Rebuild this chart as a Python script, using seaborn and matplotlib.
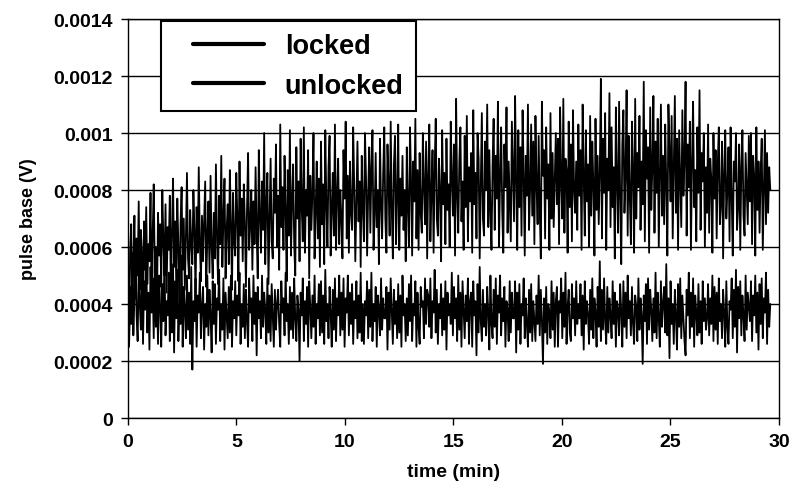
import numpy as np
import pandas as pd
import matplotlib
matplotlib.use("Agg")
import matplotlib.pyplot as plt
import seaborn as sns

# pulse base readings, in units of 1e-4 V, about 20 samples per minute
unlocked_e4 = [
    4.8, 2.6, 5.9, 6.8, 3.9, 5.4, 7.1, 4.2, 6.3, 5.0, 7.6, 4.5, 6.6, 5.8, 3.8, 6.9, 5.2, 7.4, 4.7, 6.1,
    5.5, 7.9, 4.3, 6.4, 8.2, 5.1, 6.0, 3.9, 7.2, 5.7, 6.8, 4.6, 8.0, 6.2, 5.0, 7.5, 4.4, 6.7, 5.9, 7.8,
    4.1, 6.5, 8.4, 5.3, 6.9, 4.7, 7.7, 6.0, 3.6, 6.8, 8.1, 5.2, 7.0, 4.5, 6.3, 8.6, 5.6, 4.9, 7.3, 6.1,
    5.4, 8.0, 6.6, 4.3, 7.4, 5.8, 8.8, 6.2, 4.8, 7.1, 5.5, 6.9, 8.3, 4.6, 6.4, 7.6, 5.1, 8.5, 6.0, 4.9,
    7.2, 5.6, 8.9, 6.3, 4.7, 7.8, 6.1, 9.2, 5.3, 7.0, 8.4, 4.9, 6.6, 7.5, 5.4, 8.7, 6.8, 4.5, 7.9, 6.2,
    5.7, 8.6, 7.0, 4.8, 9.0, 6.4, 7.7, 5.5, 8.2, 6.9, 4.6, 7.3, 9.3, 5.9, 6.8, 8.0, 5.2, 7.6, 6.1, 8.8,
    6.5, 4.9, 9.4, 7.1, 5.8, 8.3, 6.6, 10.0, 5.4, 7.5, 8.6, 4.7, 7.0, 9.1, 6.2, 5.6, 8.4, 7.2, 9.6, 6.0,
    7.8, 5.2, 10.3, 6.7, 8.1, 5.9, 9.2, 7.3, 4.8, 8.7, 6.4, 10.1, 5.7, 7.6, 8.9, 6.1, 5.0, 9.5, 7.0, 8.3,
    5.5, 9.8, 7.4, 6.2, 10.2, 5.8, 8.0, 7.1, 9.4, 4.9, 8.5, 6.6, 7.9, 10.0, 5.6, 7.2, 9.0, 6.3, 8.4, 5.3,
    9.7, 6.8, 8.2, 5.4, 10.1, 7.5, 6.0, 8.8, 9.9, 5.7, 7.3, 8.6, 6.4, 10.3, 5.9, 7.8, 9.1, 6.1, 8.0, 7.0,
    5.6, 9.4, 7.7, 10.4, 6.3, 8.5, 5.8, 9.0, 7.2, 6.6, 10.2, 8.1, 5.5, 7.6, 9.7, 6.9, 8.3, 5.3, 9.2, 7.4,
    6.2, 10.0, 8.4, 5.7, 7.9, 9.5, 6.5, 8.8, 10.1, 5.9, 7.1, 9.3, 6.7, 8.0, 5.4, 9.8, 7.5, 6.3, 8.6, 10.2,
    7.0, 5.8, 9.6, 8.2, 6.4, 10.4, 7.3, 5.6, 8.9, 9.9, 6.1, 7.7, 10.3, 5.9, 8.4, 7.1, 9.2, 6.6, 8.0, 5.5,
    9.5, 7.4, 6.0, 10.2, 8.3, 5.7, 9.0, 7.6, 10.5, 6.3, 8.7, 5.9, 9.3, 7.2, 6.5, 10.0, 8.1, 6.8, 9.7, 5.6,
    8.5, 10.3, 6.2, 7.9, 9.4, 5.8, 8.8, 10.5, 7.0, 6.4, 9.1, 8.0, 5.5, 10.1, 7.5, 8.6, 6.1, 9.8, 7.3, 8.2,
    6.0, 10.4, 8.4, 7.1, 9.6, 5.7, 11.2, 7.8, 6.5, 9.0, 10.2, 6.9, 8.3, 5.9, 9.9, 7.4, 10.6, 6.2, 8.8, 7.6,
    9.3, 5.8, 10.8, 7.5, 8.6, 6.3, 10.0, 9.1, 5.6, 8.2, 10.7, 7.0, 6.4, 9.7, 8.0, 11.0, 6.7, 9.4, 7.2, 5.9,
    8.9, 10.5, 6.6, 9.2, 7.7, 11.1, 6.0, 8.4, 10.2, 7.3, 5.8, 9.6, 8.1, 10.9, 6.5, 9.0, 7.6, 6.2, 10.4, 8.7,
    6.9, 11.3, 8.3, 5.9, 10.1, 7.4, 9.5, 6.4, 10.8, 8.6, 5.7, 9.2, 7.8, 11.0, 6.6, 8.0, 10.3, 7.1, 9.7, 6.1,
    10.6, 8.2, 6.8, 9.9, 7.3, 5.6, 11.1, 8.5, 9.4, 6.3, 10.2, 7.7, 8.9, 5.9, 10.7, 7.0, 9.3, 6.7, 8.4, 10.0,
    7.5, 9.8, 6.1, 10.9, 8.3, 7.0, 11.2, 6.5, 9.1, 8.7, 5.8, 10.4, 7.4, 9.6, 6.2, 10.8, 8.0, 7.2, 9.0, 6.6,
    10.3, 7.8, 9.4, 5.9, 11.0, 8.5, 6.4, 10.1, 7.6, 8.9, 6.0, 10.6, 7.1, 9.7, 8.2, 5.7, 10.5, 7.3, 9.2, 6.8,
    8.6, 11.9, 6.3, 9.8, 7.9, 10.7, 5.9, 9.1, 8.0, 11.4, 6.7, 10.2, 7.4, 8.8, 5.6, 10.9, 8.3, 6.5, 11.1, 7.7,
    5.4, 9.6, 10.8, 7.2, 8.5, 11.5, 6.4, 9.9, 7.8, 6.1, 10.4, 8.7, 5.8, 11.2, 7.0, 9.3, 8.1, 10.6, 6.6, 9.0,
    7.5, 11.8, 6.2, 10.1, 8.4, 9.5, 5.8, 10.9, 7.3, 8.8, 11.3, 6.5, 9.7, 7.9, 10.5, 6.0, 8.6, 11.0, 7.1, 9.2,
    6.8, 10.3, 8.2, 5.7, 11.0, 9.4, 7.6, 10.6, 6.3, 8.9, 11.3, 7.2, 9.8, 5.9, 10.1, 8.4, 6.7, 10.8, 7.8, 9.1,
    11.8, 6.4, 9.6, 8.1, 10.4, 5.9, 9.0, 11.1, 7.4, 8.7, 6.2, 10.2, 7.9, 11.5, 6.6, 9.3, 8.3, 10.0, 6.0, 8.8,
    7.2, 10.3, 6.5, 9.1, 8.4, 5.8, 10.0, 7.7, 9.4, 6.3, 8.9, 10.2, 6.8, 7.5, 9.7, 5.6, 8.6, 10.1, 7.0, 8.0,
    9.5, 6.2, 10.2, 7.8, 5.7, 9.0, 8.3, 10.0, 6.6, 7.4, 9.6, 5.9, 8.8, 10.1, 7.1, 6.4, 9.3, 8.0, 6.8, 9.9,
    7.6, 10.0, 6.1, 9.2, 8.5, 5.7, 10.2, 7.3, 9.0, 6.5, 8.6, 9.8, 5.9, 8.1, 10.1, 6.8, 9.3, 7.2, 8.8, 8.0,
]

locked_e4 = [
    5.0, 2.5, 4.6, 3.3, 5.8, 2.9, 4.2, 6.1, 3.6, 2.7, 5.2, 4.0, 3.1, 5.5, 2.6, 4.8, 3.8, 6.0, 3.0, 4.4,
    2.4, 5.3, 3.7, 4.9, 2.8, 5.7, 3.2, 4.5, 2.6, 5.0, 3.9, 2.5, 4.7, 3.4, 5.6, 2.9, 4.1, 3.6, 5.1, 2.7,
    4.3, 3.0, 5.4, 2.3, 4.8, 3.5, 5.2, 2.7, 4.0, 3.3, 5.7, 2.5, 4.6, 3.8, 2.8, 5.0, 3.1, 4.4, 2.6, 5.3,
    1.7, 4.1, 3.4, 4.9, 2.5, 4.3, 3.7, 5.1, 2.8, 3.9, 4.6, 2.4, 4.0, 3.2, 5.0, 2.9, 4.5, 3.6, 2.3, 4.8,
    3.3, 4.7, 2.6, 4.2, 3.8, 5.2, 2.7, 4.0, 3.1, 4.9, 2.4, 4.4, 3.6, 2.8, 4.6, 3.0, 5.0, 2.5, 4.1, 3.5,
    4.8, 2.9, 4.3, 3.6, 5.1, 2.6, 4.0, 3.2, 4.7, 2.8, 4.5, 3.4, 2.5, 4.9, 3.7, 4.2, 2.7, 5.0, 3.3, 4.4,
    2.2, 4.6, 3.5, 4.1, 2.8, 5.0, 3.2, 4.4, 3.8, 2.6, 4.9, 3.0, 4.3, 2.7, 4.7, 3.6, 2.5, 4.5, 3.1, 4.0,
    4.5, 3.3, 2.5, 4.8, 3.7, 4.2, 2.9, 5.1, 3.4, 4.0, 2.6, 4.6, 3.1, 4.4, 2.8, 4.9, 3.5, 2.7, 4.3, 3.8,
    2.0, 4.4, 3.6, 4.9, 2.7, 4.1, 3.3, 4.6, 2.5, 4.8, 3.9, 2.8, 4.3, 3.2, 5.0, 2.6, 4.0, 3.5, 4.7, 2.9,
    4.8, 3.0, 4.3, 2.6, 5.2, 3.4, 4.0, 2.8, 4.6, 3.7, 2.5, 4.5, 3.1, 4.9, 2.7, 4.2, 3.6, 5.0, 2.9, 4.4,
    3.1, 4.9, 2.5, 4.2, 3.7, 5.0, 2.9, 4.4, 3.3, 4.7, 2.6, 4.1, 3.5, 4.8, 2.8, 4.3, 3.0, 5.1, 2.7, 4.0,
    2.6, 4.1, 3.6, 4.8, 2.8, 4.5, 3.2, 5.1, 2.7, 4.0, 3.4, 4.6, 2.5, 4.3, 3.8, 2.9, 4.9, 3.1, 4.2, 3.5,
    3.5, 4.6, 2.4, 4.4, 3.1, 4.9, 3.8, 2.6, 4.5, 3.3, 4.1, 2.8, 4.7, 3.0, 4.3, 2.5, 5.0, 3.6, 4.0, 2.7,
    4.2, 2.9, 4.7, 3.4, 5.0, 2.7, 4.0, 3.6, 4.8, 2.5, 4.4, 3.2, 2.6, 4.6, 3.9, 4.1, 2.8, 4.9, 3.3, 4.5,
    4.3, 3.2, 4.9, 2.8, 4.1, 3.7, 5.2, 3.0, 4.5, 2.6, 4.0, 3.5, 4.7, 2.9, 4.2, 3.1, 4.8, 2.4, 4.4, 3.6,
    4.0, 3.3, 5.1, 2.9, 4.6, 3.5, 4.2, 2.7, 5.0, 3.1, 4.4, 2.5, 4.8, 3.8, 2.8, 4.3, 3.4, 4.9, 2.6, 4.1,
    4.4, 2.5, 4.8, 3.6, 4.1, 2.2, 4.7, 3.0, 5.3, 3.4, 2.7, 4.5, 3.2, 4.0, 2.9, 4.6, 3.7, 2.4, 5.0, 3.3,
    2.8, 4.5, 3.2, 4.9, 2.6, 4.3, 3.7, 5.0, 2.9, 4.2, 3.4, 4.6, 2.5, 4.1, 3.8, 2.7, 4.8, 3.0, 4.4, 3.5,
    3.5, 4.8, 2.3, 4.4, 3.1, 4.7, 2.6, 4.0, 3.6, 4.9, 2.8, 4.2, 3.3, 2.5, 4.5, 3.0, 4.7, 2.7, 4.1, 3.4,
    2.7, 4.3, 3.3, 5.0, 2.9, 4.5, 3.4, 1.9, 4.2, 3.0, 4.6, 2.6, 4.0, 3.7, 2.8, 4.8, 3.1, 4.4, 2.5, 4.1,
    4.6, 2.5, 4.1, 3.7, 4.9, 2.8, 4.4, 3.2, 5.1, 2.6, 3.9, 4.5, 3.0, 2.7, 4.7, 3.5, 4.2, 2.9, 4.8, 3.3,
    4.0, 3.5, 4.7, 2.9, 4.3, 2.4, 4.8, 3.3, 4.1, 3.6, 2.6, 4.5, 3.1, 4.9, 2.8, 4.2, 3.7, 2.5, 4.6, 3.2,
    5.5, 2.7, 4.5, 3.1, 4.9, 3.4, 2.6, 4.6, 3.0, 4.2, 3.6, 2.8, 4.8, 3.3, 4.4, 2.5, 4.1, 3.8, 2.9, 4.7,
    3.7, 2.5, 4.8, 3.2, 4.4, 2.8, 5.0, 3.5, 4.1, 2.9, 4.6, 3.3, 2.6, 4.3, 3.9, 2.7, 4.9, 3.1, 4.2, 3.6,
    1.9, 4.3, 3.4, 4.7, 2.6, 4.9, 3.1, 4.5, 3.8, 2.7, 4.2, 3.0, 5.1, 2.8, 4.4, 3.5, 2.5, 4.8, 3.2, 4.0,
    4.6, 3.0, 5.4, 2.9, 4.2, 2.1, 4.8, 3.3, 4.0, 2.6, 4.5, 3.6, 2.4, 4.7, 3.2, 4.9, 2.8, 4.3, 3.5, 2.7,
    2.2, 4.5, 3.6, 5.1, 2.8, 4.4, 3.2, 4.9, 2.5, 4.3, 3.7, 2.9, 4.7, 3.0, 4.1, 2.6, 4.8, 3.4, 4.2, 3.1,
    3.5, 4.7, 2.9, 4.2, 3.3, 5.0, 2.7, 4.6, 3.1, 4.4, 2.6, 4.9, 3.4, 4.0, 2.8, 4.5, 3.7, 2.5, 4.8, 3.2,
    2.6, 4.1, 3.8, 4.9, 2.8, 4.5, 3.2, 5.2, 2.3, 4.6, 3.5, 4.8, 2.9, 4.3, 3.6, 2.7, 5.0, 3.1, 4.4, 3.9,
    3.4, 4.8, 2.7, 4.3, 3.6, 5.0, 3.0, 4.4, 2.4, 4.7, 3.3, 4.9, 2.8, 4.2, 3.7, 5.1, 2.6, 4.5, 3.2, 4.0,
]

# samples are evenly spaced over the run
time_min = np.linspace(0, 29.6, len(unlocked_e4))

df = pd.DataFrame({
    "time": time_min,
    "locked": np.array(locked_e4) * 1e-4,
    "unlocked": np.array(unlocked_e4) * 1e-4,
})

sns.set_style("white")
plt.rcParams["font.family"] = ["Liberation Sans", "DejaVu Sans"]
plt.rcParams["text.color"] = "black"
plt.rcParams["axes.labelcolor"] = "black"
plt.rcParams["xtick.color"] = "black"
plt.rcParams["ytick.color"] = "black"

fig = plt.figure(figsize=(7.93, 5.02), dpi=100)
ax = fig.add_axes([0.1614, 0.1653, 0.8209, 0.7948])

sns.lineplot(data=df, x="time", y="locked", ax=ax, color="black", lw=1.3, label="locked")
sns.lineplot(data=df, x="time", y="unlocked", ax=ax, color="black", lw=1.3, label="unlocked")

ax.set_xlim(0, 30)
ax.set_ylim(0, 0.0014)
ax.set_xticks([0, 5, 10, 15, 20, 25, 30])
ax.set_yticks([0, 0.0002, 0.0004, 0.0006, 0.0008, 0.001, 0.0012, 0.0014])
ax.set_yticklabels(["0", "0.0002", "0.0004", "0.0006", "0.0008", "0.001", "0.0012", "0.0014"])
ax.grid(axis="y", color="black", lw=1.0)
ax.grid(axis="x", visible=False)

for s in ax.spines.values():
    s.set_color("black")
    s.set_linewidth(1.0)

ax.tick_params(axis="both", direction="out", length=5, width=1, color="black",
               labelsize=14, pad=6, left=True, bottom=True)
for lab in ax.get_xticklabels() + ax.get_yticklabels():
    lab.set_fontweight("bold")

ax.set_xlabel("time (min)", fontsize=14, fontweight="bold", labelpad=9)
ax.set_ylabel("pulse base (V)", fontsize=13, fontweight="bold", labelpad=12)

leg = ax.legend(loc="upper left", bbox_to_anchor=(0.0507, 0.995), borderaxespad=0,
                frameon=True, fancybox=False, edgecolor="black", framealpha=1,
                prop={"size": 19.5, "weight": "bold"}, handlelength=3.37,
                handletextpad=0.75, labelspacing=0.5, borderpad=0.45)
leg.get_frame().set_linewidth(1.5)
for h in leg.get_lines():
    h.set_linewidth(3)
    xd = np.asarray(h.get_xdata(), dtype=float)
    yd = np.asarray(h.get_ydata(), dtype=float)
    start = xd[0] + 0.22 * (xd[-1] - xd[0])
    h.set_data([start, xd[-1]], [yd[0], yd[0]])

fig.savefig("out.png", dpi=100)
